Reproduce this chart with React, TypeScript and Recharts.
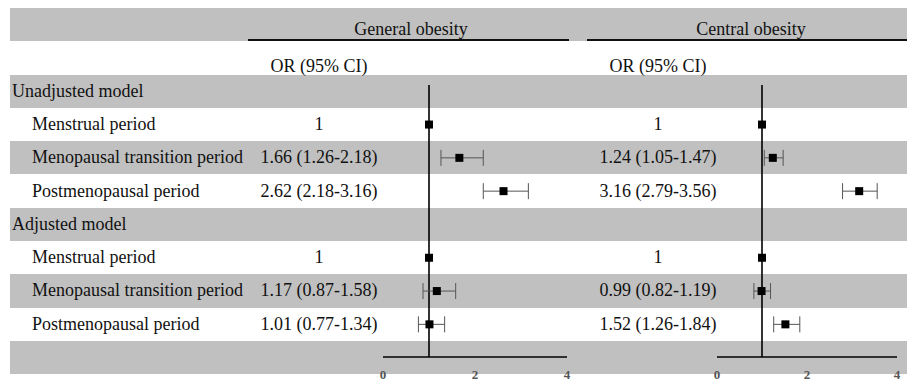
import React from 'react';
import { ScatterChart, Scatter, XAxis, YAxis, ErrorBar, ReferenceLine } from 'recharts';

// table text
const outcomeTitles = ['General obesity', 'Central obesity'];
const groupLabels = ['Unadjusted model', 'Adjusted model'];
const periodLabels = ['Menstrual period', 'Menopausal transition period', 'Postmenopausal period'];
const axisTicks = [0, 2, 4];

// order: unadjusted (menstrual, transition, post), then adjusted (same)
const generalOR = [1, 1.66, 2.62, 1, 1.17, 1.01];
const generalLow = [null, 1.26, 2.18, null, 0.87, 0.77];
const generalHigh = [null, 2.18, 3.16, null, 1.58, 1.34];

const centralOR = [1, 1.24, 3.16, 1, 0.99, 1.52];
const centralLow = [null, 1.05, 2.79, null, 0.82, 1.26];
const centralHigh = [null, 1.47, 3.56, null, 1.19, 1.84];

const TOP = 8;
const ROW_H = 33.3;
const N_ROWS = 11;
const GRAY = '#c0c0c0';
const FONT = '"Liberation Serif", "Times New Roman", serif';

// plot area (pixels on the page)
const PLOT_TOP = 85;
const PLOT_BOTTOM = 357;
const yDomain = [(PLOT_TOP - TOP) / ROW_H - 0.5, (PLOT_BOTTOM - TOP) / ROW_H - 0.5];

// data index -> table row
const tableRow = (k: number) => (k < 3 ? 3 + k : 4 + k);
const rowCenter = (r: number) => TOP + (r + 0.5) * ROW_H;

const fmt = (or: number, lo: number | null, hi: number | null) =>
  lo == null || hi == null ? String(or) : `${or.toFixed(2)} (${lo.toFixed(2)}-${hi.toFixed(2)})`;

const buildPoints = (or: number[], lo: (number | null)[], hi: (number | null)[]) =>
  or.map((v, k) => ({
    x: v,
    y: tableRow(k),
    err: lo[k] == null ? null : [v - (lo[k] as number), (hi[k] as number) - v],
  }));

const Square = (props: any) => {
  const { cx, cy } = props;
  if (cx == null || cy == null) return null;
  return <rect x={cx - 4} y={cy - 4} width={8} height={8} fill="#000" />;
};

const AxisTick = (props: any) => {
  const { x, y, payload } = props;
  return (
    <text x={x} y={y + 22} textAnchor="middle" fontSize={13} fontWeight={700} fontFamily={FONT} fill="#555">
      {payload.value}
    </text>
  );
};

function Forest({ left, width, data }: { left: number; width: number; data: any[] }) {
  const m = 10;
  return (
    <div style={{ position: 'absolute', left: left - m, top: PLOT_TOP - m }}>
      <ScatterChart
        width={width + 2 * m}
        height={PLOT_BOTTOM - PLOT_TOP + m + 28}
        margin={{ top: m, right: m, left: m, bottom: 0 }}
      >
        <XAxis
          type="number"
          dataKey="x"
          domain={[0, 4]}
          ticks={axisTicks}
          allowDataOverflow
          height={28}
          axisLine={{ stroke: '#000', strokeWidth: 1.6 }}
          tickLine={false}
          tickSize={0}
          tickMargin={0}
          tick={<AxisTick />}
        />
        <YAxis type="number" dataKey="y" domain={yDomain} reversed hide allowDataOverflow />
        <ReferenceLine x={1} stroke="#000" strokeWidth={1.6} />
        <Scatter data={data} shape={<Square />} isAnimationActive={false}>
          <ErrorBar dataKey="err" direction="x" width={8} stroke="#555" strokeWidth={1} isAnimationActive={false} />
        </Scatter>
      </ScatterChart>
    </div>
  );
}

export default function App() {
  const generalPts = buildPoints(generalOR, generalLow, generalHigh);
  const centralPts = buildPoints(centralOR, centralLow, centralHigh);

  const textBox = (key: string, text: string, cx: number | null, x: number | null, yc: number) => (
    <div
      key={key}
      style={{
        position: 'absolute',
        top: yc - ROW_H / 2,
        height: ROW_H,
        lineHeight: `${ROW_H}px`,
        whiteSpace: 'nowrap',
        ...(cx != null ? { left: cx - 100, width: 200, textAlign: 'center' as const } : { left: x as number }),
      }}
    >
      {text}
    </div>
  );

  const cells: React.ReactNode[] = [];
  groupLabels.forEach((g, gi) => {
    cells.push(textBox(`g${gi}`, g, null, 12, rowCenter(2 + gi * 4)));
    periodLabels.forEach((p, pi) => {
      const k = gi * 3 + pi;
      const yc = rowCenter(tableRow(k));
      cells.push(textBox(`p${k}`, p, null, 32, yc));
      cells.push(textBox(`gv${k}`, fmt(generalOR[k], generalLow[k], generalHigh[k]), 319, null, yc));
      cells.push(textBox(`cv${k}`, fmt(centralOR[k], centralLow[k], centralHigh[k]), 658, null, yc));
    });
  });

  return (
    <div
      style={{
        position: 'absolute',
        left: 0,
        top: 0,
        width: 907,
        height: 382,
        background: '#fff',
        fontFamily: FONT,
        fontSize: 18,
        color: '#111',
        overflow: 'hidden',
      }}
    >
      {Array.from({ length: N_ROWS }, (_, i) =>
        i % 2 === 0 ? (
          <div
            key={`band${i}`}
            style={{ position: 'absolute', left: 10, top: TOP + i * ROW_H, width: 897, height: ROW_H, background: GRAY }}
          />
        ) : null
      )}
      <div style={{ position: 'absolute', left: 248, top: 39, width: 321, height: 2, background: '#111' }} />
      <div style={{ position: 'absolute', left: 587, top: 39, width: 320, height: 2, background: '#111' }} />
      {textBox('t0', outcomeTitles[0], 411, null, 30)}
      {textBox('t1', outcomeTitles[1], 751, null, 30)}
      {textBox('or0', 'OR (95% CI)', 319, null, 67)}
      {textBox('or1', 'OR (95% CI)', 658, null, 67)}
      {cells}
      <Forest left={383} width={184} data={generalPts} />
      <Forest left={717} width={180} data={centralPts} />
    </div>
  );
}
